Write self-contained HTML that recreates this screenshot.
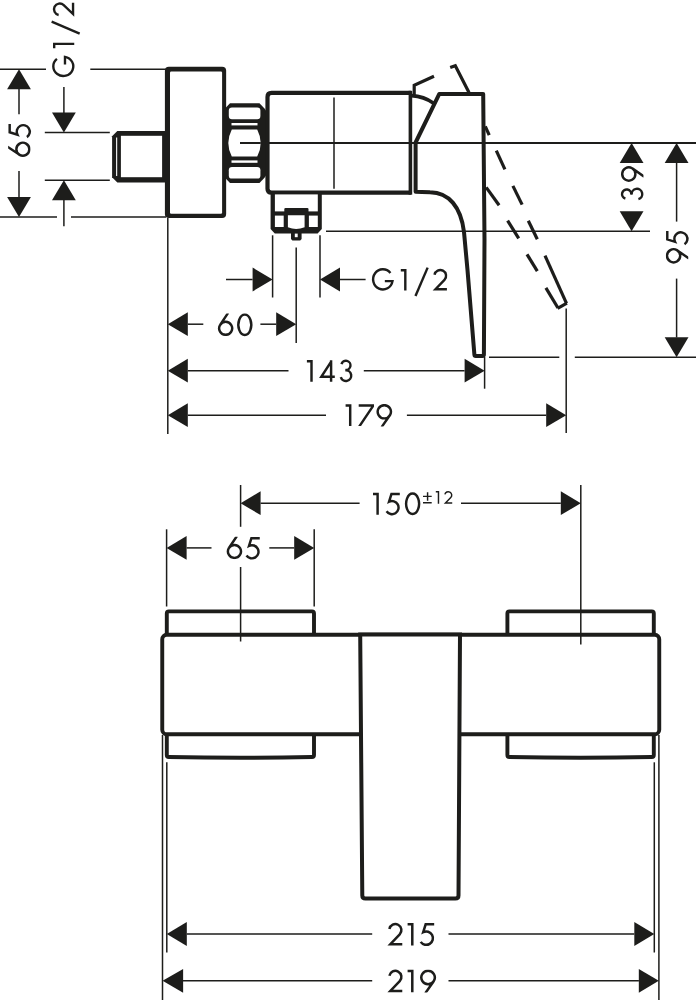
<!DOCTYPE html>
<html lang="en">
<head>
<meta charset="utf-8">
<title>Dimension drawing</title>
<style>
html,body{margin:0;padding:0;background:#fff;font-family:"Liberation Sans",sans-serif;}
svg{display:block;}
</style>
</head>
<body>
<svg width="696" height="1000" viewBox="0 0 696 1000">
<defs><clipPath id="cb"><rect x="-3" y="-0.3" width="30" height="22.5"/></clipPath></defs>
<rect width="696" height="1000" fill="#fff"/>
<line x1="0" y1="69.3" x2="46" y2="69.3" stroke="#1d1d1b" stroke-width="1.5"/>
<line x1="90.3" y1="69.3" x2="166" y2="69.3" stroke="#1d1d1b" stroke-width="1.5"/>
<line x1="0" y1="217" x2="57" y2="217" stroke="#1d1d1b" stroke-width="1.5"/>
<line x1="71" y1="217" x2="166" y2="217" stroke="#1d1d1b" stroke-width="1.5"/>
<polygon points="19,69.3 7.1,89.3 30.9,89.3" fill="#1d1d1b"/>
<polygon points="19,217 7.1,197 30.9,197" fill="#1d1d1b"/>
<line x1="19" y1="89" x2="19" y2="114.2" stroke="#1d1d1b" stroke-width="1.5"/>
<line x1="19" y1="171.1" x2="19" y2="197.2" stroke="#1d1d1b" stroke-width="1.5"/>
<g transform="translate(8.45,156.9) rotate(-90)" fill="none" stroke="#1d1d1b" stroke-width="2.45" stroke-miterlimit="3">
<path transform="translate(0,0)" d="M10.2,-1 L2.32,10.76 M7.7,7.9 a6.5,6.5 0 1 0 0.01,0 Z" clip-path="url(#cb)"/>
<path transform="translate(18.9,0)" d="M14.1,1.23 H5.75 L3.37,8.94 A6.55,6.55 0 1 1 0.87,18.46"/>
</g>
<line x1="44.8" y1="132.6" x2="109.8" y2="132.6" stroke="#1d1d1b" stroke-width="1.5"/>
<line x1="44.8" y1="180.2" x2="109.8" y2="180.2" stroke="#1d1d1b" stroke-width="1.5"/>
<polygon points="63.9,132.6 52,112.6 75.8,112.6" fill="#1d1d1b"/>
<polygon points="63.9,180.2 52,200.2 75.8,200.2" fill="#1d1d1b"/>
<line x1="63.9" y1="86.9" x2="63.9" y2="113" stroke="#1d1d1b" stroke-width="1.5"/>
<line x1="63.9" y1="200" x2="63.9" y2="226.3" stroke="#1d1d1b" stroke-width="1.5"/>
<g transform="translate(53,77.2) rotate(-90)" fill="none" stroke="#1d1d1b" stroke-width="2.45" stroke-miterlimit="3">
<path transform="translate(0,0) scale(0.97)" d="M18.88,4.05 A9.95,10.3 0 1 0 21.01,12.35 H13.2"/>
<path transform="translate(28.9,0) scale(0.97)" d="M0,1.23 H4.6 V21.9"/>
<path transform="translate(42.9,0) scale(0.97)" d="M13.1,-1.4 L0.7,27.5"/>
<path transform="translate(60.9,0) scale(0.97)" d="M1.36,5.81 A5.95,5.95 0 1 1 11.5,11.06 L2.3,20.67 H14"/>
</g>
<rect x="164.9" y="66.8" width="61.25" height="151.1" rx="4" fill="#1d1d1b"/>
<rect x="170" y="71.5" width="52.1" height="142.3" rx="1.2" fill="#fff"/>
<polygon points="166,131 117.3,131 112.1,136.2 112.1,177.3 117.3,182.5 166,182.5" fill="#1d1d1b"/>
<rect x="120.9" y="135.8" width="41.2" height="41.4" fill="#fff"/>
<rect x="116.1" y="137.5" width="1.1" height="38.5" fill="#fff"/>
<path d="M225,108.5 L230,103.3 H259.5 L264.5,108.5 L267,112 V174 L264.5,177.7 L259.5,183 H230 L225,177.7 Z" fill="#1d1d1b"/>
<rect x="228.8" y="107.6" width="31.6" height="11.6" rx="3.2" fill="#fff"/>
<rect x="228.8" y="167" width="31.6" height="11.6" rx="3.2" fill="#fff"/>
<rect x="231.5" y="123" width="26" height="2.4" fill="#fff"/>
<rect x="231.5" y="160.4" width="26" height="2.4" fill="#fff"/>
<path d="M231.8,129.6 H257.2 Q264.2,143.1 257.2,156.6 H231.8 Q224.8,143.1 231.8,129.6 Z" fill="#fff"/>
<path d="M411,92.9 H271.5 Q267.5,92.9 267.5,96.9 V188.7 Q267.5,192.6 271.5,192.6 H411" fill="none" stroke="#1d1d1b" stroke-width="4.2" />
<path d="M410.4,90.8 V194.7" fill="none" stroke="#1d1d1b" stroke-width="3.6" />
<line x1="334" y1="97.5" x2="334" y2="188.8" stroke="#1d1d1b" stroke-width="1.5"/>
<line x1="240" y1="143" x2="260.8" y2="143" stroke="#1d1d1b" stroke-width="2"/>
<line x1="268" y1="143" x2="696" y2="143" stroke="#1d1d1b" stroke-width="2"/>
<path d="M270.6,192 H321.8 V229 L317.6,233.4 H274.8 L270.6,229 Z" fill="#1d1d1b"/>
<rect x="274.9" y="194.4" width="42.9" height="17" fill="#fff"/>
<rect x="284.3" y="207.9" width="24.2" height="8" rx="1.2" fill="#1d1d1b"/>
<rect x="274.9" y="215.6" width="8.8" height="11.4" fill="#fff"/>
<rect x="308.9" y="215.6" width="8.9" height="11.4" fill="#fff"/>
<path d="M287.9,215.3 H304.6 V227.2 Q296.2,230.6 287.9,227.2 Z" fill="#fff"/>
<path d="M291,232 H301.6 V239 L300.2,240.5 H292.4 L291,239 Z" fill="#1d1d1b"/>
<rect x="294.8" y="233.6" width="2.9" height="3.6" fill="#fff"/>
<path d="M411.5,95.6 Q424,96.3 433.6,103.2" fill="none" stroke="#1d1d1b" stroke-width="3.6" />
<path d="M415.6,191.8 V142.5 L439.3,93.9 H483.2 L484.5,240 L483.9,354.6 Q483.9,356 482.5,356 H475.8 Q474.5,356 474.4,354.6 L467.5,270 L464,232 C461,207 449,192.6 430,192.3 Q421,191.8 415.6,191.8 Z" fill="none" stroke="#1d1d1b" stroke-width="4" stroke-linejoin="round"/>
<path d="M414.2,95 V85.2 L434,76.3" fill="none" stroke="#1d1d1b" stroke-width="3.2" />
<path d="M450.2,67.6 L455.3,65.8 L469,92.5" fill="none" stroke="#1d1d1b" stroke-width="3.2" />
<path d="M485.3,126.3 L489.2,135.2" fill="none" stroke="#1d1d1b" stroke-width="3.2" />
<path d="M496.3,150.6 L504.9,169.3" fill="none" stroke="#1d1d1b" stroke-width="3.2" />
<path d="M512.9,185.9 L522.1,204.6" fill="none" stroke="#1d1d1b" stroke-width="3.2" />
<path d="M528.3,220.7 L537.3,239.3" fill="none" stroke="#1d1d1b" stroke-width="3.2" />
<path d="M545,255.6 L566.5,303.4" fill="none" stroke="#1d1d1b" stroke-width="3.2" />
<path d="M566.9,303.2 L557.6,308.4" fill="none" stroke="#1d1d1b" stroke-width="3.2" />
<path d="M486.2,187.4 L499.1,205.2" fill="none" stroke="#1d1d1b" stroke-width="3.2" />
<path d="M507.6,220.7 L518.7,238.3" fill="none" stroke="#1d1d1b" stroke-width="3.2" />
<path d="M527,254.3 L537.3,271.1" fill="none" stroke="#1d1d1b" stroke-width="3.2" />
<path d="M545.9,287.9 L558,308" fill="none" stroke="#1d1d1b" stroke-width="3.2" />
<line x1="167.8" y1="218" x2="167.8" y2="434" stroke="#1d1d1b" stroke-width="1.5"/>
<line x1="272.6" y1="235.3" x2="272.6" y2="297.5" stroke="#1d1d1b" stroke-width="1.5"/>
<line x1="320" y1="235.3" x2="320" y2="297.5" stroke="#1d1d1b" stroke-width="1.5"/>
<line x1="296.2" y1="247.6" x2="296.2" y2="343" stroke="#1d1d1b" stroke-width="1.5"/>
<line x1="326" y1="231.3" x2="650" y2="231.3" stroke="#1d1d1b" stroke-width="1.5"/>
<polygon points="272.6,279.5 252.6,267.6 252.6,291.4" fill="#1d1d1b"/>
<polygon points="320,279.5 340,267.6 340,291.4" fill="#1d1d1b"/>
<line x1="226" y1="279.5" x2="252.6" y2="279.5" stroke="#1d1d1b" stroke-width="1.5"/>
<line x1="340" y1="279.5" x2="365.6" y2="279.5" stroke="#1d1d1b" stroke-width="1.5"/>
<g transform="translate(371.9,269)" fill="none" stroke="#1d1d1b" stroke-width="2.45" stroke-miterlimit="3">
<path transform="translate(0,0) scale(0.98)" d="M18.88,4.05 A9.95,10.3 0 1 0 21.01,12.35 H13.2"/>
<path transform="translate(28.9,0) scale(0.98)" d="M0,1.23 H4.6 V21.9"/>
<path transform="translate(42.9,0) scale(0.98)" d="M13.1,-1.4 L0.7,27.5"/>
<path transform="translate(61.3,0) scale(0.98)" d="M1.36,5.81 A5.95,5.95 0 1 1 11.5,11.06 L2.3,20.67 H14"/>
</g>
<polygon points="167.8,324.2 187.8,312.3 187.8,336.1" fill="#1d1d1b"/>
<polygon points="296.2,324.2 276.2,312.3 276.2,336.1" fill="#1d1d1b"/>
<line x1="187.8" y1="324.2" x2="203.3" y2="324.2" stroke="#1d1d1b" stroke-width="1.5"/>
<line x1="260.4" y1="324.2" x2="276.2" y2="324.2" stroke="#1d1d1b" stroke-width="1.5"/>
<g transform="translate(217.95,313.9)" fill="none" stroke="#1d1d1b" stroke-width="2.45" stroke-miterlimit="3">
<path transform="translate(0,0)" d="M10.2,-1 L2.32,10.76 M7.7,7.9 a6.5,6.5 0 1 0 0.01,0 Z" clip-path="url(#cb)"/>
<path transform="translate(19.15,0)" d="M7.7,0.75 a6.45,10.2 0 1 0 0.01,0 Z"/>
</g>
<polygon points="167.8,370.7 187.8,358.8 187.8,382.6" fill="#1d1d1b"/>
<polygon points="484.6,370.7 464.6,358.8 464.6,382.6" fill="#1d1d1b"/>
<line x1="187.8" y1="370.7" x2="288.5" y2="370.7" stroke="#1d1d1b" stroke-width="1.5"/>
<line x1="363.8" y1="370.7" x2="464.6" y2="370.7" stroke="#1d1d1b" stroke-width="1.5"/>
<line x1="484.6" y1="357" x2="484.6" y2="388.7" stroke="#1d1d1b" stroke-width="1.5"/>
<g transform="translate(306.9,359.95)" fill="none" stroke="#1d1d1b" stroke-width="2.45" stroke-miterlimit="3">
<path transform="translate(0,0)" d="M0,1.23 H4.6 V21.9"/>
<path transform="translate(12.3,0)" d="M11.9,21.9 V0.4 M12.1,1.4 L2.1,16.8 H15.6"/>
<path transform="translate(32.6,0)" d="M1.98,4.13 A4.6,4.6 0 1 1 5.84,9.97 M5.85,10.43 A5.3,5.3 0 1 1 1.31,17.16"/>
</g>
<polygon points="167.8,415.2 187.8,403.3 187.8,427.1" fill="#1d1d1b"/>
<polygon points="566.2,415.2 546.2,403.3 546.2,427.1" fill="#1d1d1b"/>
<line x1="187.8" y1="415.2" x2="326" y2="415.2" stroke="#1d1d1b" stroke-width="1.5"/>
<line x1="406.9" y1="415.2" x2="546.2" y2="415.2" stroke="#1d1d1b" stroke-width="1.5"/>
<line x1="566.2" y1="308.6" x2="566.2" y2="433" stroke="#1d1d1b" stroke-width="1.5"/>
<g transform="translate(345.6,404.2)" fill="none" stroke="#1d1d1b" stroke-width="2.45" stroke-miterlimit="3">
<path transform="translate(0,0)" d="M0,1.23 H4.6 V21.9"/>
<path transform="translate(13.1,0)" d="M0,0 H15.3 V2.45 L2.35,21.9 H-0.55 L12.4,2.45 H0 Z" fill="#1d1d1b" stroke="none"/>
<path transform="translate(30.8,0)" d="M5.18,22.9 L13.28,11.37 M7.9,0.95 a6.6,6.6 0 1 0 0.01,0 Z" clip-path="url(#cb)"/>
</g>
<line x1="489" y1="357.3" x2="559.3" y2="357.3" stroke="#1d1d1b" stroke-width="1.5"/>
<line x1="574.8" y1="357.3" x2="696" y2="357.3" stroke="#1d1d1b" stroke-width="1.5"/>
<polygon points="631.6,143 619.7,163 643.5,163" fill="#1d1d1b"/>
<polygon points="631.6,231.3 619.7,211.3 643.5,211.3" fill="#1d1d1b"/>
<g transform="translate(621.25,200.5) rotate(-90)" fill="none" stroke="#1d1d1b" stroke-width="2.45" stroke-miterlimit="3">
<path transform="translate(0,0)" d="M1.98,4.13 A4.6,4.6 0 1 1 5.84,9.97 M5.85,10.43 A5.3,5.3 0 1 1 1.31,17.16"/>
<path transform="translate(18.6,0)" d="M5.18,22.9 L13.28,11.37 M7.9,0.95 a6.6,6.6 0 1 0 0.01,0 Z" clip-path="url(#cb)"/>
</g>
<polygon points="676.6,143 664.7,163 688.5,163" fill="#1d1d1b"/>
<polygon points="676.6,357.3 664.7,337.3 688.5,337.3" fill="#1d1d1b"/>
<line x1="676.6" y1="163" x2="676.6" y2="221.6" stroke="#1d1d1b" stroke-width="1.5"/>
<line x1="676.6" y1="278.6" x2="676.6" y2="337.5" stroke="#1d1d1b" stroke-width="1.5"/>
<g transform="translate(666.05,263.7) rotate(-90)" fill="none" stroke="#1d1d1b" stroke-width="2.45" stroke-miterlimit="3">
<path transform="translate(0,0)" d="M5.18,22.9 L13.28,11.37 M7.9,0.95 a6.6,6.6 0 1 0 0.01,0 Z" clip-path="url(#cb)"/>
<path transform="translate(18.5,0)" d="M14.1,1.23 H5.75 L3.37,8.94 A6.55,6.55 0 1 1 0.87,18.46"/>
</g>
<line x1="240.6" y1="485" x2="240.6" y2="526.8" stroke="#1d1d1b" stroke-width="1.5"/>
<line x1="240.6" y1="567" x2="240.6" y2="641.5" stroke="#1d1d1b" stroke-width="1.5"/>
<line x1="580.8" y1="485" x2="580.8" y2="644.4" stroke="#1d1d1b" stroke-width="1.5"/>
<polygon points="240.6,503.2 260.6,491.3 260.6,515.1" fill="#1d1d1b"/>
<polygon points="580.8,503.2 560.8,491.3 560.8,515.1" fill="#1d1d1b"/>
<line x1="260.6" y1="503.2" x2="359.6" y2="503.2" stroke="#1d1d1b" stroke-width="1.5"/>
<line x1="461" y1="503.2" x2="560.8" y2="503.2" stroke="#1d1d1b" stroke-width="1.5"/>
<g transform="translate(373,492.8)" fill="none" stroke="#1d1d1b" stroke-width="2.45" stroke-miterlimit="3">
<path transform="translate(0,0)" d="M0,1.23 H4.6 V21.9"/>
<path transform="translate(12.7,0)" d="M14.1,1.23 H5.75 L3.37,8.94 A6.55,6.55 0 1 1 0.87,18.46"/>
<path transform="translate(31.9,0)" d="M7.7,0.75 a6.45,10.2 0 1 0 0.01,0 Z"/>
</g>
<g transform="translate(423,491.1)" fill="none" stroke="#1d1d1b" stroke-width="2.5" stroke-miterlimit="3">
<path transform="translate(0,0) scale(0.58)" d="M0,9.1 H15 M7.9,1.9 V16.7 M0,20.2 H15"/>
<path transform="translate(12.8,0) scale(0.58)" d="M0,1.23 H4.6 V21.9"/>
<path transform="translate(21.1,0) scale(0.58)" d="M1.36,5.81 A5.95,5.95 0 1 1 11.5,11.06 L2.3,20.67 H14"/>
</g>
<line x1="166.6" y1="529.3" x2="166.6" y2="606.5" stroke="#1d1d1b" stroke-width="1.5"/>
<line x1="314.2" y1="529.3" x2="314.2" y2="606.5" stroke="#1d1d1b" stroke-width="1.5"/>
<polygon points="166.6,547.9 186.6,536 186.6,559.8" fill="#1d1d1b"/>
<polygon points="314.2,547.9 294.2,536 294.2,559.8" fill="#1d1d1b"/>
<line x1="186.6" y1="547.9" x2="211.5" y2="547.9" stroke="#1d1d1b" stroke-width="1.5"/>
<line x1="269.3" y1="547.9" x2="294.2" y2="547.9" stroke="#1d1d1b" stroke-width="1.5"/>
<g transform="translate(226.75,537)" fill="none" stroke="#1d1d1b" stroke-width="2.45" stroke-miterlimit="3">
<path transform="translate(0,0)" d="M10.2,-1 L2.32,10.76 M7.7,7.9 a6.5,6.5 0 1 0 0.01,0 Z" clip-path="url(#cb)"/>
<path transform="translate(18.9,0)" d="M14.1,1.23 H5.75 L3.37,8.94 A6.55,6.55 0 1 1 0.87,18.46"/>
</g>
<path d="M166.8,634.5 V613.4 Q166.8,611.4 168.8,611.4 H312 Q314,611.4 314,613.4 V634.5" fill="none" stroke="#1d1d1b" stroke-width="3.9" />
<path d="M166.8,733.7 V755 Q166.8,757 168.8,757 Q240.4,758.6 312,757 Q314,757 314,755 V733.7" fill="none" stroke="#1d1d1b" stroke-width="3.9" />
<path d="M507.4,634.5 V613.4 Q507.4,611.4 509.4,611.4 H651.8 Q653.8,611.4 653.8,613.4 V634.5" fill="none" stroke="#1d1d1b" stroke-width="3.9" />
<path d="M507.4,733.7 V755 Q507.4,757 509.4,757 Q580.6,758.6 651.8,757 Q653.8,757 653.8,755 V733.7" fill="none" stroke="#1d1d1b" stroke-width="3.9" />
<rect x="162.25" y="634.75" width="497" height="99.55" rx="4.5" fill="none" stroke="#1d1d1b" stroke-width="3.9"/>
<path d="M360.2,634.6 L362.3,895.5 Q362.3,898.6 365.4,898.6 H455.4 Q458.5,898.6 458.5,895.5 L460,634.6 Z" fill="#fff" stroke="#1d1d1b" stroke-width="4"/>
<line x1="162.5" y1="735" x2="162.5" y2="1000" stroke="#1d1d1b" stroke-width="1.5"/>
<line x1="166.8" y1="762.3" x2="166.8" y2="952.5" stroke="#1d1d1b" stroke-width="1.5"/>
<line x1="654.3" y1="762.3" x2="654.3" y2="952.5" stroke="#1d1d1b" stroke-width="1.5"/>
<line x1="658.9" y1="735" x2="658.9" y2="1000" stroke="#1d1d1b" stroke-width="1.5"/>
<polygon points="166.8,934 186.8,922.1 186.8,945.9" fill="#1d1d1b"/>
<polygon points="654.3,934 634.3,922.1 634.3,945.9" fill="#1d1d1b"/>
<line x1="186.8" y1="934" x2="372.2" y2="934" stroke="#1d1d1b" stroke-width="1.5"/>
<line x1="448.5" y1="934" x2="634.3" y2="934" stroke="#1d1d1b" stroke-width="1.5"/>
<g transform="translate(388,923.05)" fill="none" stroke="#1d1d1b" stroke-width="2.45" stroke-miterlimit="3">
<path transform="translate(0,0) scale(1.02)" d="M1.36,5.81 A5.95,5.95 0 1 1 11.5,11.06 L2.3,20.67 H14"/>
<path transform="translate(19.6,0) scale(1.02)" d="M0,1.23 H4.6 V21.9"/>
<path transform="translate(31.8,0) scale(1.02)" d="M14.1,1.23 H5.75 L3.37,8.94 A6.55,6.55 0 1 1 0.87,18.46"/>
</g>
<polygon points="162.6,980.8 183.1,968.9 183.1,992.7" fill="#1d1d1b"/>
<polygon points="658.8,980.8 638.8,968.9 638.8,992.7" fill="#1d1d1b"/>
<line x1="182.5" y1="980.8" x2="372.2" y2="980.8" stroke="#1d1d1b" stroke-width="1.5"/>
<line x1="448.5" y1="980.8" x2="638.9" y2="980.8" stroke="#1d1d1b" stroke-width="1.5"/>
<g transform="translate(388,969.85)" fill="none" stroke="#1d1d1b" stroke-width="2.45" stroke-miterlimit="3">
<path transform="translate(0,0) scale(1.02)" d="M1.36,5.81 A5.95,5.95 0 1 1 11.5,11.06 L2.3,20.67 H14"/>
<path transform="translate(19.6,0) scale(1.02)" d="M0,1.23 H4.6 V21.9"/>
<path transform="translate(32,0) scale(1.02)" d="M5.18,22.9 L13.28,11.37 M7.9,0.95 a6.6,6.6 0 1 0 0.01,0 Z" clip-path="url(#cb)"/>
</g>
</svg>
</body>
</html>
